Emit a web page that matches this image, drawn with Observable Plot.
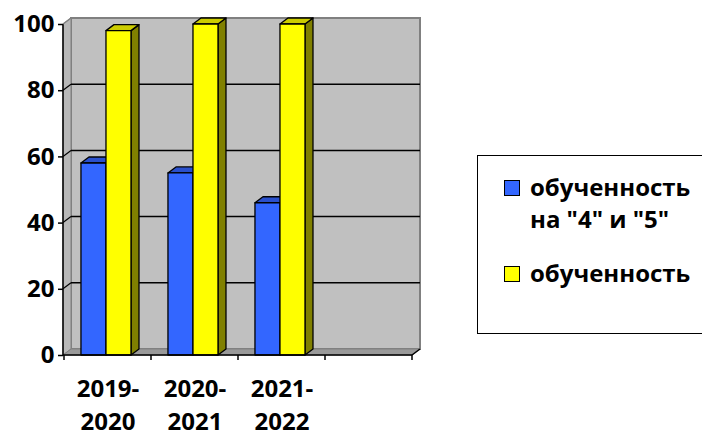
<!DOCTYPE html>
<html><head><meta charset="utf-8">
<script src="https://cdn.jsdelivr.net/npm/d3@7"></script>
<script src="https://cdn.jsdelivr.net/npm/@observablehq/plot@0.6"></script>
<style>
body{margin:0;background:#fff;}
#wrap{position:relative;width:702px;height:437px;overflow:hidden;font-family:"Open Sans",sans-serif;}
#legend{position:absolute;left:477px;top:155px;width:250px;height:179px;border:1.5px solid #000;box-sizing:border-box;background:#fff;font-weight:bold;font-size:24px;color:#000;}
.item{position:absolute;left:26px;display:flex;align-items:flex-start;line-height:32px;white-space:nowrap;}
.sw{width:14px;height:14px;border:1px solid #000;margin-top:9px;margin-right:10px;flex:none;}
</style></head>
<body><div id="wrap"><div id="chart"></div><div id="legend"></div></div>
<script>
const categories = ["2019-2020", "2020-2021", "2021-2022", ""];
const tickLabels = ["2019-\n2020", "2020-\n2021", "2021-\n2022", ""];
const seriesNames = ['обученность на "4" и "5"', 'обученность'];
const legendLabels = ['обученность<br>на "4" и "5"', 'обученность'];
const good = [58, 55, 46];
const total = [98, 100, 100];
const yTicks = [0, 20, 40, 60, 80, 100];

const FRONT = ["#3366ff", "#ffff00"];
const TOP = ["#2a50cc", "#cccc00"];
const SIDE = ["#1f3a99", "#808000"];
const DX = 8, DY = -6;

const rows = categories.slice(0, 3).flatMap((c, i) => [
  {cat: c, s: 0, value: good[i]},
  {cat: c, s: 1, value: total[i]}
]);

function pts(a) { return a.map(p => p.join(",")).join(" "); }

function wallMark(index, {x, y}) {
  const [xl, xr] = x.range();
  const yb = y(0), yt = y(100);
  const g = d3.create("svg:g");
  g.append("rect").attr("x", xl + DX).attr("y", yt + DY).attr("width", xr - xl).attr("height", yb - yt)
    .attr("fill", "#c0c0c0").attr("stroke", "#808080").attr("stroke-width", 2);
  g.append("polygon").attr("points", pts([[xl, yt], [xl + DX, yt + DY], [xl + DX, yb + DY], [xl, yb]]))
    .attr("fill", "#b8b8b8").attr("stroke", "#808080").attr("stroke-width", 1);
  g.append("polygon").attr("points", pts([[xl, yb], [xl + DX, yb + DY], [xr + DX, yb + DY], [xr, yb]]))
    .attr("fill", "#9a9a9a").attr("stroke", "#808080").attr("stroke-width", 1);
  for (const t of yTicks) {
    if (t === 0 || t === 100) continue;
    g.append("line").attr("x1", xl + DX).attr("x2", xr + DX).attr("y1", y(t) + DY).attr("y2", y(t) + DY)
      .attr("stroke", "#000").attr("stroke-width", 1.5);
    g.append("line").attr("x1", xl).attr("x2", xl + DX).attr("y1", y(t)).attr("y2", y(t) + DY)
      .attr("stroke", "#000").attr("stroke-width", 1.2);
  }
  return g.node();
}

function barsMark(index, {x, y}) {
  const bw = x.bandwidth();
  const inner = d3.scaleBand().domain([0, 1]).range([bw * 0.195, bw * 0.77]);
  const g = d3.create("svg:g").attr("stroke", "#000").attr("stroke-width", 1.3).attr("stroke-linejoin", "round");
  for (const r of rows) {
    const x0 = x(r.cat) + inner(r.s), x1 = x0 + inner.bandwidth();
    const y0 = y(0), y1 = y(r.value);
    g.append("polygon").attr("points", pts([[x1, y1], [x1 + DX, y1 + DY], [x1 + DX, y0 + DY], [x1, y0]])).attr("fill", SIDE[r.s]);
    g.append("polygon").attr("points", pts([[x0, y1], [x0 + DX, y1 + DY], [x1 + DX, y1 + DY], [x1, y1]])).attr("fill", TOP[r.s]);
    g.append("rect").attr("x", x0).attr("y", y1).attr("width", x1 - x0).attr("height", y0 - y1).attr("fill", FRONT[r.s]);
  }
  return g.node();
}

function axesMark(index, {x, y}) {
  const [xl, xr] = x.range();
  const yb = y(0), yt = y(100);
  const g = d3.create("svg:g").attr("stroke", "#000").attr("stroke-width", 1.5);
  g.append("line").attr("x1", xl).attr("x2", xl).attr("y1", yt).attr("y2", yb);
  g.append("line").attr("x1", xl).attr("x2", xl + DX).attr("y1", yt).attr("y2", yt + DY).attr("stroke", "#808080");
  g.append("line").attr("x1", xl).attr("x2", xr).attr("y1", yb).attr("y2", yb);
  g.append("line").attr("x1", xr).attr("x2", xr + DX).attr("y1", yb).attr("y2", yb + DY);
  for (const c of categories) {
    const a = x(c);
    g.append("line").attr("x1", a).attr("x2", a).attr("y1", yb).attr("y2", yb + 5);
  }
  g.append("line").attr("x1", xr).attr("x2", xr).attr("y1", yb).attr("y2", yb + 5);
  return g.node();
}

const chart = Plot.plot({
  width: 702,
  height: 437,
  marginLeft: 63,
  marginRight: 290,
  marginTop: 24,
  marginBottom: 82,
  style: {fontFamily: "'Open Sans', sans-serif", background: "transparent"},
  x: {type: "band", domain: categories, padding: 0, axis: null},
  y: {domain: [0, 100], axis: null},
  marks: [
    wallMark,
    barsMark,
    axesMark,
    Plot.axisY(yTicks, {tickSize: 5, tickPadding: 4, fontSize: 24, fontWeight: "bold", stroke: "#000", strokeWidth: 1.5, fill: "#000", label: null}),
    Plot.text(categories, {x: d => d, frameAnchor: "bottom", text: (d, i) => tickLabels[i], lineAnchor: "top", dy: 18, lineHeight: 1.38, fontSize: 24, fontWeight: "bold", fill: "#000"})
  ]
});
document.getElementById("chart").appendChild(chart);

const legend = document.getElementById("legend");
seriesNames.forEach((name, i) => {
  const it = document.createElement("div");
  it.className = "item";
  it.style.top = (i === 0 ? 15 : 101) + "px";
  it.innerHTML = `<div class="sw" style="background:${FRONT[i]}"></div><div>${legendLabels[i]}</div>`;
  legend.appendChild(it);
});
</script></body></html>
